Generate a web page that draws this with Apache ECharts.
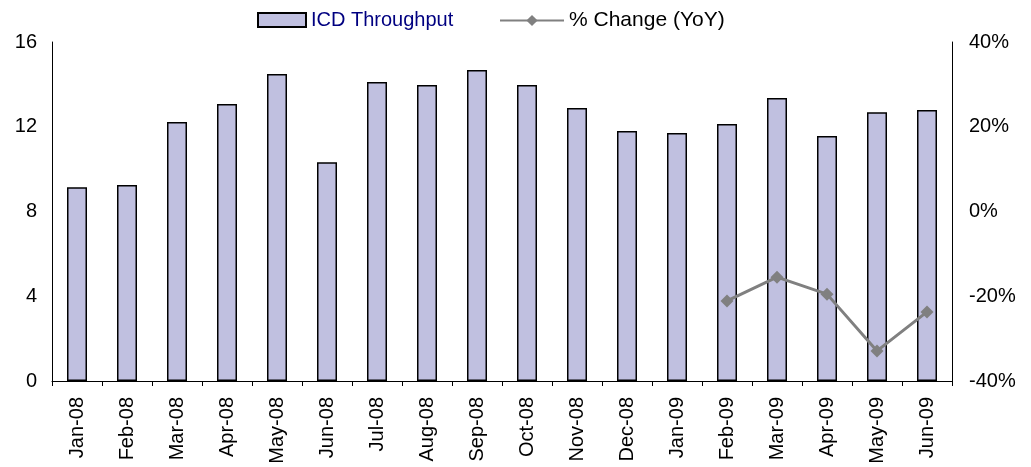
<!DOCTYPE html>
<html>
<head>
<meta charset="utf-8">
<script src="https://cdn.jsdelivr.net/npm/echarts@6/dist/echarts.min.js"></script>
<style>
  html, body { margin: 0; padding: 0; background: #fff; }
  #chart { width: 1031px; height: 467px; }
</style>
</head>
<body>
<div id="chart"></div>
<script>
// months on the x axis
const months = ['Jan-08', 'Feb-08', 'Mar-08', 'Apr-08', 'May-08', 'Jun-08', 'Jul-08', 'Aug-08', 'Sep-08',
  'Oct-08', 'Nov-08', 'Dec-08', 'Jan-09', 'Feb-09', 'Mar-09', 'Apr-09', 'May-09', 'Jun-09'];
// ICD throughput (left axis)
const throughput = [9.15, 9.25, 12.22, 13.07, 14.49, 10.33, 14.11, 13.97, 14.68,
  13.97, 12.88, 11.8, 11.7, 12.13, 13.36, 11.56, 12.69, 12.79];
// % change YoY (right axis), only from Feb-09
const yoyChange = [null, null, null, null, null, null, null, null, null,
  null, null, null, null, -21.1, -15.5, -19.5, -32.9, -23.7];

const font = 'Liberation Sans, Arial, sans-serif';

const chart = echarts.init(document.getElementById('chart'));
const option = {
  animation: false,
  // two legends so each icon can have its own width
  legend: [
    {
      top: 5,
      left: 252,
      itemWidth: 48,
      itemHeight: 14,
      textStyle: { fontFamily: font, fontSize: 20, color: '#000080' },
      data: [{ name: 'ICD Throughput', icon: 'rect' }]
    },
    {
      top: 5,
      left: 494,
      itemWidth: 64,
      itemHeight: 14,
      itemGap: 4,
      textStyle: { fontFamily: font, fontSize: 21, color: '#000' },
      data: ['% Change (YoY)']
    }
  ],
  grid: { left: 52, right: 79, top: 42, bottom: 86 },
  xAxis: {
    type: 'category',
    data: months,
    axisLine: { lineStyle: { color: '#000', width: 1 } },
    axisTick: { show: true, length: 5, lineStyle: { color: '#000' } },
    axisLabel: { rotate: 90, fontFamily: font, fontSize: 20, color: '#000', margin: 16 }
  },
  yAxis: [
    {
      type: 'value', min: 0, max: 16, interval: 4,
      splitLine: { show: false },
      axisLine: { show: true, lineStyle: { color: '#000', width: 1 } },
      axisTick: { show: false },
      axisLabel: { fontFamily: font, fontSize: 20, color: '#000', margin: 15 }
    },
    {
      type: 'value', min: -40, max: 40, interval: 20,
      splitLine: { show: false },
      axisLine: { show: true, lineStyle: { color: '#000', width: 1 } },
      axisTick: { show: false },
      axisLabel: { fontFamily: font, fontSize: 20, color: '#000', margin: 17, formatter: '{value}%' }
    }
  ],
  series: [
    {
      name: 'ICD Throughput',
      type: 'bar',
      barWidth: 20,
      data: throughput,
      itemStyle: { color: '#C0C0E0', borderColor: '#000', borderWidth: 1.5 }
    },
    {
      name: '% Change (YoY)',
      type: 'line',
      yAxisIndex: 1,
      data: yoyChange,
      symbol: 'diamond',
      symbolSize: 13,
      lineStyle: { color: '#808080', width: 3 },
      itemStyle: { color: '#808080' }
    }
  ]
};
chart.setOption(option);
</script>
</body>
</html>
